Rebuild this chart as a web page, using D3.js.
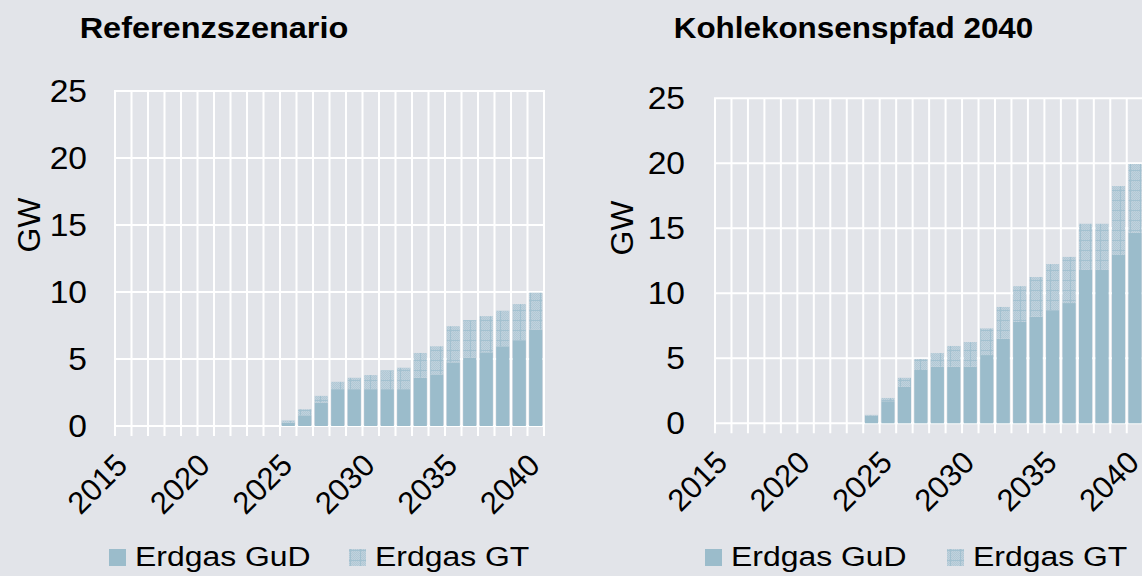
<!DOCTYPE html>
<html>
<head>
<meta charset="utf-8">
<script src="https://cdn.jsdelivr.net/npm/d3@7/dist/d3.min.js"></script>
<style>
  html, body { margin: 0; padding: 0; background: #e2e4e9; }
  svg { display: block; font-family: "Liberation Sans", Arial, sans-serif; }
</style>
</head>
<body>
<svg id="chart" width="1142" height="576"></svg>
<script>
// ---------- data ----------
const years = ["2015","2016","2017","2018","2019","2020","2021","2022","2023","2024","2025","2026","2027",
               "2028","2029","2030","2031","2032","2033","2034","2035","2036","2037","2038","2039","2040"];
const tickYears = ["2015","2020","2025","2030","2035","2040"];
const yTicks = [0, 5, 10, 15, 20, 25];
const seriesNames = ["Erdgas GuD", "Erdgas GT"];
const panelTitles = ["Referenzszenario", "Kohlekonsenspfad 2040"];

const refGuD = [0,0,0,0,0,0,0,0,0,0, 0.25,0.8,1.75,2.75,2.75,2.75,2.75,2.75,3.6,3.85,4.75,5.1,5.5,5.95,6.4,7.2];
const refGT  = [0,0,0,0,0,0,0,0,0,0, 0.15,0.45,0.5,0.55,0.85,1.05,1.4,1.6,1.85,2.1,2.7,2.8,2.7,2.65,2.7,2.75];

const kkGuD = [0,0,0,0,0,0,0,0,0, 0.6,1.7,2.8,4.1,4.35,4.35,4.35,5.25,6.5,7.8,8.2,8.7,9.25,11.8,11.8,12.95,14.65];
const kkGT  = [0,0,0,0,0,0,0,0,0, 0.05,0.25,0.7,0.85,1.05,1.6,1.9,2.05,2.45,2.75,3.05,3.55,3.55,3.55,3.55,5.3,5.3];

// ---------- styles ----------
const BG = "#e2e4e9";
const GUD = "#9bbccb";
const GRID = "#ffffff";

const svg = d3.select("#chart");
svg.append("rect").attr("width", 1142).attr("height", 576).attr("fill", BG);

// hatched pattern for GT
const defs = svg.append("defs");
const pat = defs.append("pattern").attr("id", "gtPat")
  .attr("patternUnits", "userSpaceOnUse").attr("width", 10).attr("height", 10);
pat.append("rect").attr("width", 10).attr("height", 10).attr("fill", "#c0d2dd");
for (let i = 0; i < 10; i++) {
  for (let j = 0; j < 10; j++) {
    if ((i + j) % 2 === 0) pat.append("rect").attr("x", i).attr("y", j).attr("width", 1).attr("height", 1).attr("fill", "#b1c8d5");
  }
}
pat.append("rect").attr("x", 0).attr("y", 0).attr("width", 10).attr("height", 1).attr("fill", "#a3c1d0");
pat.append("rect").attr("x", 0).attr("y", 0).attr("width", 1).attr("height", 10).attr("fill", "#a3c1d0");

// horizontal text with slight horizontal stretch (as in the reference rendering)
function htext(g, x, y, str, size, anchor, sx, weight) {
  return g.append("text")
    .attr("transform", `translate(${x},${y}) scale(${sx},1)`)
    .attr("text-anchor", anchor).attr("font-size", size)
    .attr("font-weight", weight || "normal").attr("fill", "#000")
    .text(str);
}

function drawPanel(cfg) {
  const g = svg.append("g");
  const x = d3.scaleBand().domain(years)
    .range([cfg.left, cfg.left + cfg.step * years.length])
    .paddingInner(0.2).paddingOuter(0.1);
  const y = d3.scaleLinear().domain([0, 25]).range([cfg.bottom, cfg.top]);
  const off = x.step() * 0.1;

  // vertical grid lines (category boundaries) extending below as ticks
  const bounds = years.map(d => x(d) - off).concat([x(years[years.length - 1]) + x.bandwidth() + off]);
  g.selectAll("line.vg").data(bounds).join("line")
    .attr("x1", d => d).attr("x2", d => d)
    .attr("y1", cfg.top).attr("y2", cfg.bottom + 10)
    .attr("stroke", GRID).attr("stroke-width", 2);
  // horizontal grid lines
  g.selectAll("line.hg").data(yTicks).join("line")
    .attr("x1", cfg.left - 1).attr("x2", bounds[bounds.length - 1] + 1)
    .attr("y1", d => y(d)).attr("y2", d => y(d))
    .attr("stroke", GRID).attr("stroke-width", 2);

  // bars
  const rows = years.map((yr, i) => ({ yr, a: cfg.gud[i], b: cfg.gt[i] }));
  g.selectAll("rect.gud").data(rows.filter(r => r.a > 0)).join("rect")
    .attr("x", d => x(d.yr)).attr("width", x.bandwidth())
    .attr("y", d => y(d.a)).attr("height", d => y(0) - y(d.a))
    .attr("fill", GUD);
  g.selectAll("rect.gt").data(rows.filter(r => r.b > 0)).join("rect")
    .attr("x", d => x(d.yr)).attr("width", x.bandwidth())
    .attr("y", d => y(d.a + d.b)).attr("height", d => y(d.a) - y(d.a + d.b))
    .attr("fill", "url(#gtPat)");

  // y tick labels
  yTicks.forEach(t => htext(g, cfg.left - cfg.ylabGap, y(t) + 11, t, 32, "end", 1.05));

  // y axis title
  g.append("text")
    .attr("transform", `translate(${cfg.gwX},${cfg.gwY}) rotate(-90)`)
    .attr("text-anchor", "middle").attr("font-size", 32).attr("fill", "#000")
    .text("GW");

  // x tick labels
  g.selectAll("text.xt").data(tickYears).join("text")
    .attr("transform", d => `translate(${x(d) + x.bandwidth() / 2 + 6},${cfg.bottom + 41}) rotate(-45)`)
    .attr("text-anchor", "end").attr("font-size", 31).attr("fill", "#000")
    .text(d => d);

  // title
  htext(g, cfg.titleX, 38, cfg.title, 29.5, "middle", cfg.titleSx, "bold");

  // legend
  const fills = [GUD, "url(#gtPat)"];
  seriesNames.forEach((name, i) => {
    g.append("rect").attr("x", cfg.legX[i]).attr("y", 549).attr("width", 17).attr("height", 17).attr("fill", fills[i]);
    htext(g, cfg.legX[i] + 26, 566, name, 28, "start", 1.14);
  });
}

drawPanel({ left: 115, step: 16.5, top: 91, bottom: 426, ylabGap: 28, gwX: 40, gwY: 225, titleSx: 1.1,
            titleX: 214, title: panelTitles[0], gud: refGuD, gt: refGT, legX: [109, 349] });
drawPanel({ left: 715, step: 16.47, top: 98.3, bottom: 423.3, ylabGap: 30, gwX: 633, gwY: 228, titleSx: 1.065,
            titleX: 853.5, title: panelTitles[1], gud: kkGuD, gt: kkGT, legX: [705, 947] });
</script>
</body>
</html>
